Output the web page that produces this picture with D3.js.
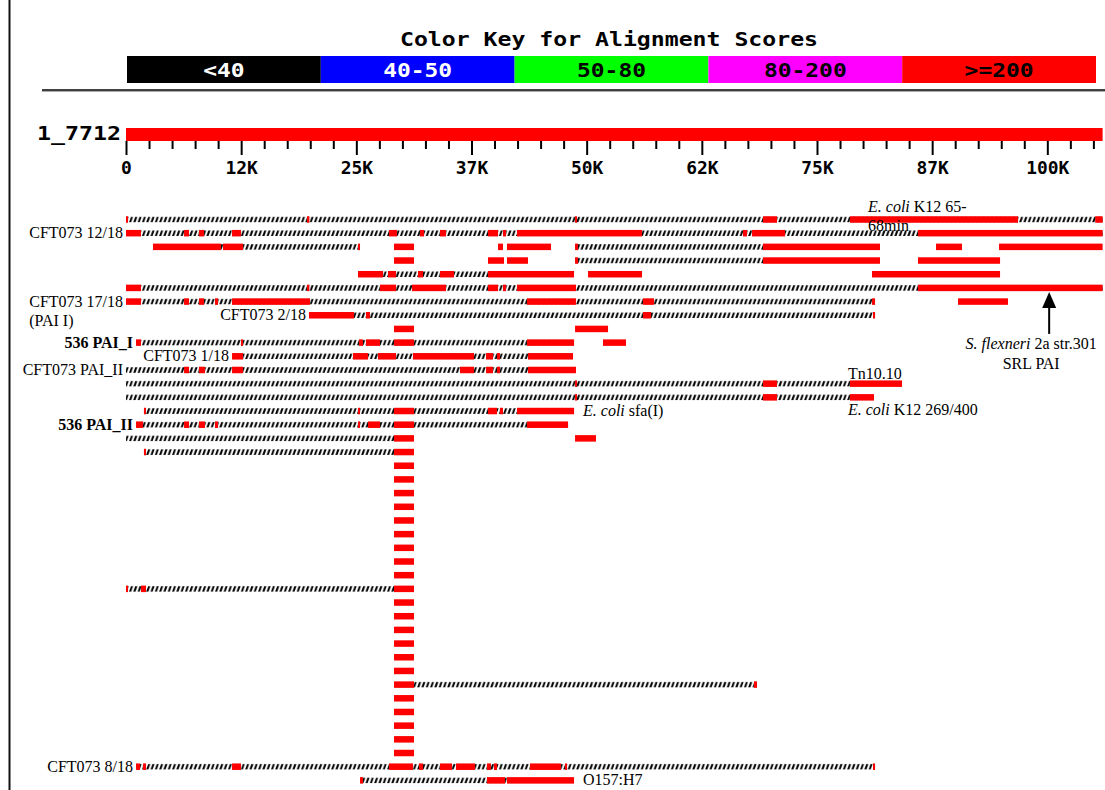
<!DOCTYPE html>
<html>
<head>
<meta charset="utf-8">
<script src="https://cdn.jsdelivr.net/npm/d3@7"></script>
<style>
  body { margin: 0; background: #fff; }
  svg { display: block; }
  .mono { font-family: 'DejaVu Sans Mono', monospace; font-weight: bold; }
  .serif { font-family: 'Liberation Serif', 'Times New Roman', serif; font-size: 16px; fill: #000; }
</style>
</head>
<body>
<svg id="chart" width="1105" height="790"></svg>
<script>
// colour key
const keyLabels = ['<40', '40-50', '50-80', '80-200', '>=200']
const keyColors = ['#000000', '#0000ff', '#00ff00', '#ff00ff', '#ff0000']
const keyTextColors = ['#fff', '#fff', '#000', '#000', '#000']

// query, lengths in kb
const queryName = '1_7712'
const queryLength = 106
const majorTicks = [0, 12.5, 25, 37.5, 50, 62.5, 75, 87.5, 100]
const minorTicks = [2.5, 5, 7.5, 10, 15, 17.5, 20, 22.5, 27.5, 30, 32.5, 35, 40, 42.5, 45, 47.5,
  52.5, 55, 57.5, 60, 65, 67.5, 70, 72.5, 77.5, 80, 82.5, 85, 90, 92.5, 95, 97.5, 102.5, 105]

// HSPs with score >= 200, one list per row of the overview [start, end] in kb
const col = [[29.09, 31.26]]
const hspRows = [
  [[0, 0.22], [19.65, 19.9], [48.74, 48.95], [69.14, 70.66], [78.58, 96.82], [105.2, 106]],
  [[0, 1.63], [6.3, 6.84], [7.92, 8.47], [11.51, 12.48], [28.55, 29.41], [31.91, 32.35], [34.08, 34.73],
    [39.29, 40.38], [40.92, 41.25], [42.44, 56.01], [66.97, 67.4], [67.95, 71.53], [85.96, 106]],
  [[2.93, 10.31], [10.53, 12.7], [25.18, 25.4], [29.09, 31.26], [40.38, 40.92], [41.35, 46.13],
    [48.74, 49.06], [69.14, 81.84], [87.92, 90.74], [94.76, 106]],
  [[29.09, 31.26], [39.29, 41.03], [41.35, 43.63], [48.74, 49.06], [69.14, 81.84], [85.96, 94.87]],
  [[25.18, 27.9], [28.44, 29.31], [31.69, 32.24], [34.08, 35.6], [39.29, 48.63], [50.15, 56.01], [80.97, 94.87]],
  [[0, 1.63], [19.65, 19.9], [27.57, 29.31], [31.04, 34.73], [39.29, 40.38], [40.92, 41.25], [42.44, 48.84], [85.96, 106]],
  [[0, 1.63], [6.3, 6.84], [7.92, 8.47], [9.66, 9.99], [11.51, 19.97], [43.52, 48.84], [56.12, 57.31],
    [80.97, 81.3], [90.31, 95.73]],
  [[19.86, 24.75], [26.05, 26.48], [56.12, 56.99], [81.08, 81.3]],
  [[29.09, 31.26], [48.74, 52.32]],
  [[1.09, 1.63], [12.48, 12.7], [25.29, 25.72], [26.05, 27.57], [29.09, 31.26], [43.52, 48.63], [51.77, 54.27]],
  [[11.51, 12.7], [24.64, 26.27], [27.35, 29.31], [31.15, 37.77], [39.08, 39.83], [40.27, 40.59], [43.63, 48.52]],
  [[6.3, 6.84], [7.92, 8.57], [11.51, 12.7], [36.25, 37.77], [39.08, 39.83], [40.27, 40.59], [43.63, 48.84]],
  [[48.74, 48.95], [69.14, 70.66], [78.58, 84.23]],
  [[48.74, 48.95], [69.14, 70.66], [78.58, 81.19]],
  [[1.95, 2.17], [25.18, 25.4], [29.09, 31.26], [39.29, 40.27], [40.59, 40.92], [42.44, 48.63]],
  [[1.09, 1.85], [6.3, 6.84], [7.92, 8.57], [9.66, 9.99], [25.18, 25.4], [26.27, 27.57], [29.09, 31.26], [43.52, 47.98]],
  [[29.09, 31.26], [48.74, 51.01]],
  [[1.95, 2.17], [29.09, 31.26]],
  col, col, col, col, col, col, col, col, col,
  [[0, 0.22], [1.63, 2.17], [29.09, 31.26]],
  col, col, col, col, col, col,
  [[29.09, 31.26], [68.16, 68.49]],
  col, col, col, col, col,
  [[1.09, 1.52], [1.85, 2.17], [11.51, 12.48], [28.55, 31.15], [31.8, 32.24], [34.08, 35.38], [35.82, 37.88],
    [39.18, 39.62], [39.94, 40.27], [43.85, 47.21], [47.65, 47.87], [81.08, 81.3]],
  [[25.4, 25.72], [39.18, 41.14], [41.35, 48.63]]
]

// hatched lines joining HSPs of the same subject, [row, start, end] in kb
const linkSpans = [
  [0, 0, 106], [1, 0, 106], [2, 2.93, 25.4], [2, 48.74, 81.84], [3, 48.74, 69.14], [4, 25.18, 39.29],
  [5, 0, 106], [6, 0, 81.3], [7, 19.86, 81.3], [9, 1.09, 48.63], [10, 11.51, 48.52], [11, 0, 48.84],
  [12, 0, 78.58], [13, 0, 78.58], [14, 1.95, 48.63], [15, 1.09, 47.98], [16, 0, 29.09], [17, 1.95, 29.09],
  [27, 0, 29.09], [34, 31.26, 68.49], [40, 1.09, 81.3], [41, 25.4, 41.35]
]

// subject labels: row, anchor position in kb, side, text parts [text, italic]
const hitLabels = [
  [0, 80.76, 'above', [['E. coli', true], [' K12 65-', false]]],
  [0, 80.76, 'under', [['68min', false]]],
  [1, 0, 'left', [['CFT073 12/18', false]]],
  [6, 0, 'left', [['CFT073 17/18', false]]],
  [6, 0, 'second', [['(PAI I)', false]]],
  [7, 19.86, 'left', [['CFT073 2/18', false]]],
  [9, 1.09, 'leftBold', [['536 PAI_I', false]]],
  [10, 11.51, 'left', [['CFT073 1/18', false]]],
  [11, 0, 'left', [['CFT073 PAI_II', false]]],
  [12, 78.58, 'above', [['Tn10.10', false]]],
  [13, 78.58, 'below', [['E. coli', true], [' K12 269/400', false]]],
  [14, 48.63, 'right', [['E. coli', true], [' sfa(I)', false]]],
  [15, 1.09, 'leftBold', [['536 PAI_II', false]]],
  [40, 1.09, 'left', [['CFT073 8/18', false]]],
  [41, 48.63, 'right', [['O157:H7', false]]]
]
const arrowRow = 5
const arrowAt = 100.2
const arrowText = [[['S. flexneri', true], [' 2a str.301', false]], [['SRL PAI', false]]]

const svg = d3.select('#chart')

const x = d3.scaleLinear().domain([0, queryLength]).range([126, 1102.6])
const rowPitch = 13.68
const y = d3.scaleLinear().domain([0, 41]).range([219.5, 219.5 + 41 * rowPitch])

// left frame line
svg.append('rect').attr('x', 8.5).attr('y', 0).attr('width', 2).attr('height', 790).attr('fill', '#111')

// colour key
svg.append('text')
  .attr('class', 'mono')
  .attr('x', 609).attr('y', 46)
  .attr('text-anchor', 'middle')
  .attr('font-size', 20)
  .attr('textLength', 418)
  .attr('lengthAdjust', 'spacingAndGlyphs')
  .text('Color Key for Alignment Scores')

const key = d3.scaleBand().domain(keyLabels).range([127, 1096])
const keyG = svg.append('g')
keyG.selectAll('rect')
  .data(keyLabels)
  .join('rect')
    .attr('x', d => key(d))
    .attr('y', 56)
    .attr('width', key.bandwidth())
    .attr('height', 27)
    .attr('fill', (d, i) => keyColors[i])
keyG.selectAll('text')
  .data(keyLabels)
  .join('text')
    .attr('class', 'mono')
    .attr('x', d => key(d) + key.bandwidth() / 2)
    .attr('y', 76.5)
    .attr('text-anchor', 'middle')
    .attr('font-size', 20)
    .attr('textLength', d => d.length * 13.8)
    .attr('lengthAdjust', 'spacingAndGlyphs')
    .attr('fill', (d, i) => keyTextColors[i])
    .text(d => d)

svg.append('line').attr('x1', 42).attr('x2', 1105).attr('y1', 90).attr('y2', 90)
  .attr('stroke', '#000').attr('stroke-width', 1.5)
svg.append('line').attr('x1', 42).attr('x2', 1105).attr('y1', 91.5).attr('y2', 91.5)
  .attr('stroke', '#aaa').attr('stroke-width', 1)

// query bar + ruler
svg.append('text')
  .attr('class', 'mono')
  .attr('x', 121).attr('y', 140)
  .attr('text-anchor', 'end')
  .attr('font-size', 20)
  .attr('textLength', 84)
  .attr('lengthAdjust', 'spacingAndGlyphs')
  .text(queryName)

svg.append('rect')
  .attr('x', x(0)).attr('y', 128)
  .attr('width', x(queryLength) - x(0)).attr('height', 13)
  .attr('fill', '#ff0000')

const axisY = 141
svg.append('g')
  .attr('transform', `translate(0,${axisY})`)
  .call(d3.axisBottom(x).tickValues(minorTicks).tickSize(8).tickFormat(''))
  .call(g => g.select('.domain').remove())
  .call(g => g.selectAll('line').attr('stroke', '#000').attr('stroke-width', 2))

svg.append('g')
  .attr('transform', `translate(0,${axisY})`)
  .call(d3.axisBottom(x).tickValues(majorTicks).tickSize(14).tickPadding(6)
    .tickFormat(d => d === 0 ? '0' : Math.floor(d) + 'K'))
  .attr('font-family', "'DejaVu Sans Mono', monospace")
  .attr('font-weight', 'bold')
  .attr('font-size', 18)
  .call(g => g.select('.domain').remove())
  .call(g => g.selectAll('line').attr('stroke', '#000').attr('stroke-width', 2))
  .call(g => g.selectAll('text').attr('fill', '#000')
    .attr('textLength', function () { return this.textContent.length * 10.8 })
    .attr('lengthAdjust', 'spacingAndGlyphs'))

// hatch for the joining lines
const defs = svg.append('defs')
defs.append('pattern')
  .attr('id', 'hatch')
  .attr('patternUnits', 'userSpaceOnUse')
  .attr('x', 0)
  .attr('y', y(0) - 3)
  .attr('width', 4.3)
  .attr('height', rowPitch)
  .call(p => p.append('rect').attr('width', 4.3).attr('height', 6).attr('fill', '#fff'))
  .call(p => p.append('path').attr('d', 'M0,5.8 L2.1,5.8 L4.1,0.2 L2,0.2 Z').attr('fill', '#000'))

svg.append('g')
  .selectAll('rect')
  .data(linkSpans)
  .join('rect')
    .attr('x', d => x(d[1]))
    .attr('y', d => y(d[0]) - 3)
    .attr('width', d => x(d[2]) - x(d[1]))
    .attr('height', 6)
    .attr('fill', 'url(#hatch)')

const hsps = hspRows.flatMap((segs, row) => segs.map(s => ({ row, start: s[0], end: s[1] })))
svg.append('g')
  .attr('fill', '#ff0000')
  .selectAll('rect')
  .data(hsps)
  .join('rect')
    .attr('x', d => x(d.start))
    .attr('y', d => y(d.row) - 3.25)
    .attr('width', d => Math.max(2, x(d.end) - x(d.start)))
    .attr('height', 6.5)

// labels
function addParts(sel, parts) {
  parts.forEach(([t, it]) => {
    sel.append('tspan').attr('font-style', it ? 'italic' : 'normal').text(t)
  })
}

const labelG = svg.append('g')
let prevLeft = null
hitLabels.forEach(([row, at, side, parts]) => {
  const t = labelG.append('text').attr('class', 'serif')
  const base = y(row) + 5
  if (side === 'left' || side === 'leftBold') {
    t.attr('x', x(at) - 3).attr('y', base).attr('text-anchor', 'end')
    if (side === 'leftBold') t.attr('font-weight', 'bold')
  } else if (side === 'second') {
    t.attr('x', prevLeft).attr('y', base + 19)
  } else if (side === 'right') {
    t.attr('x', x(at) + 9).attr('y', base)
  } else if (side === 'above') {
    t.attr('x', x(at) - 2).attr('y', row === 0 ? base - 13 : base - 10)
  } else if (side === 'under') {
    t.attr('x', x(at) - 2).attr('y', base + 6)
  } else if (side === 'below') {
    t.attr('x', x(at) - 2).attr('y', base + 13)
  }
  addParts(t, parts)
  if (side === 'left') prevLeft = t.node().getBBox().x
})

// arrow for S. flexneri SRL PAI
const ax = x(arrowAt)
const tipY = y(arrowRow) + 4
svg.append('path')
  .attr('d', `M${ax},${tipY} L${ax - 7},${tipY + 16} L${ax + 7},${tipY + 16} Z`)
  .attr('fill', '#000')
svg.append('line')
  .attr('x1', ax).attr('x2', ax)
  .attr('y1', tipY + 14).attr('y2', tipY + 42)
  .attr('stroke', '#000').attr('stroke-width', 2)
arrowText.forEach((parts, i) => {
  const t = labelG.append('text').attr('class', 'serif')
    .attr('x', ax - 18).attr('y', tipY + 57 + i * 20)
    .attr('text-anchor', 'middle')
  addParts(t, parts)
})
</script>
</body>
</html>
